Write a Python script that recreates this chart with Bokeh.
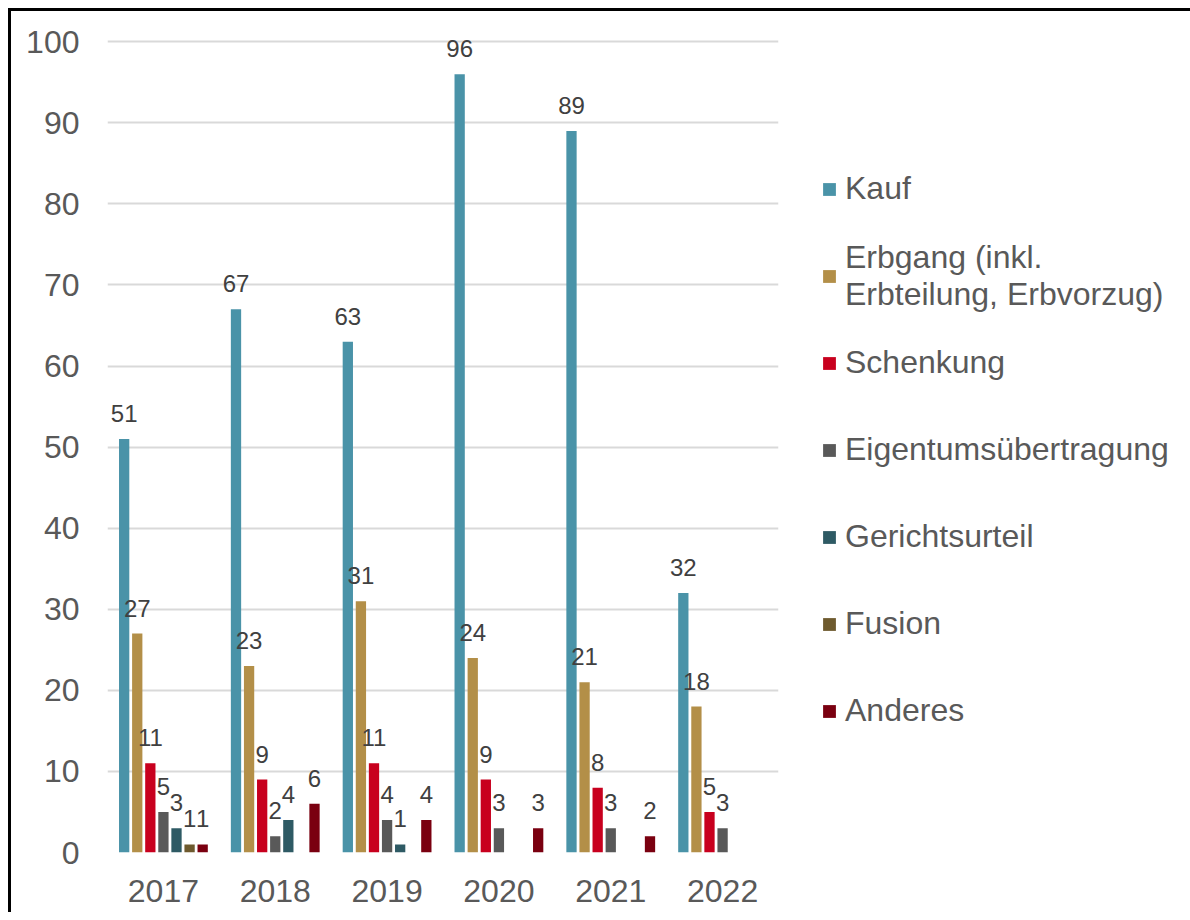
from bokeh.plotting import figure
from bokeh.models import (ColumnDataSource, FactorRange, FixedTicker, Legend, LegendItem)
from bokeh.transform import dodge
from bokeh.core.properties import value
from bokeh.embed import file_html
from bokeh.resources import INLINE

years = ["2017", "2018", "2019", "2020", "2021", "2022"]
series_names = ["Kauf", "Erbgang (inkl.\nErbteilung, Erbvorzug)", "Schenkung",
                "Eigentumsübertragung", "Gerichtsurteil", "Fusion", "Anderes"]
kauf = [51, 67, 63, 96, 89, 32]
erbgang = [27, 23, 31, 24, 21, 18]
schenkung = [11, 9, 11, 9, 8, 5]
eigentum = [5, 2, 4, 3, 3, 3]
gericht = [3, 4, 1, 0, 0, 0]
fusion = [1, 0, 0, 0, 0, 0]
anderes = [1, 6, 4, 3, 2, 0]
colors = ["#4A93A8", "#B38F48", "#C8001E", "#595959", "#2E5A64", "#6E5A2E", "#7A0010"]
y_ticks = list(range(0, 101, 10))

all_series = [kauf, erbgang, schenkung, eigentum, gericht, fusion, anderes]

FONT = "Liberation Sans"
p = figure(x_range=FactorRange(*years), y_range=(0, 102),
           frame_width=671, frame_height=827, output_backend="svg", toolbar_location=None,
           min_border_left=96, min_border_right=0, min_border_top=14, min_border_bottom=60,
           styles={"border-top": "3px solid #000", "border-left": "3px solid #000",
                   "margin-left": "8px", "margin-top": "8px"})
p.outline_line_color = None
p.background_fill_color = "white"
p.border_fill_color = "white"

p.xgrid.grid_line_color = None
p.ygrid.grid_line_color = "#D9D9D9"
p.ygrid.grid_line_width = 2
p.yaxis.ticker = FixedTicker(ticks=y_ticks)

for ax in (p.xaxis, p.yaxis):
    ax.axis_line_color = None
    ax.major_tick_line_color = None
    ax.minor_tick_line_color = None
    ax.major_label_text_font = FONT
    ax.major_label_text_font_size = "32px"
    ax.major_label_text_color = "#595959"
p.yaxis.major_label_standoff = 22
p.xaxis.major_label_standoff = 21

pitch = 0.117
bw = 0.092
items = []
for i, (name, vals, col) in enumerate(zip(series_names, all_series, colors)):
    off = (i - 3) * pitch
    src = ColumnDataSource(dict(year=years, v=vals,
                                lbl=[str(v) if v > 0 else "" for v in vals]))
    r = p.vbar(x=dodge("year", off, range=p.x_range), top="v", width=bw,
               source=src, fill_color=col, line_color=None)
    p.text(x=dodge("year", off, range=p.x_range), y="v", text="lbl", source=src,
           text_align="center", text_baseline="bottom", y_offset=-17,
           text_font=value(FONT), text_font_size="24px", text_color="#404040")
    items.append(LegendItem(label=name, renderers=[r]))

legend = Legend(items=items, location=(43, 98),
                label_text_font=FONT, label_text_font_size="32px",
                label_text_color="#595959", glyph_width=16, glyph_height=16,
                label_standoff=8, spacing=0, label_height=87,
                padding=0, margin=0, border_line_color=None,
                background_fill_alpha=0)
p.add_layout(legend, "right")

open("out.html", "w").write(file_html(p, INLINE))
